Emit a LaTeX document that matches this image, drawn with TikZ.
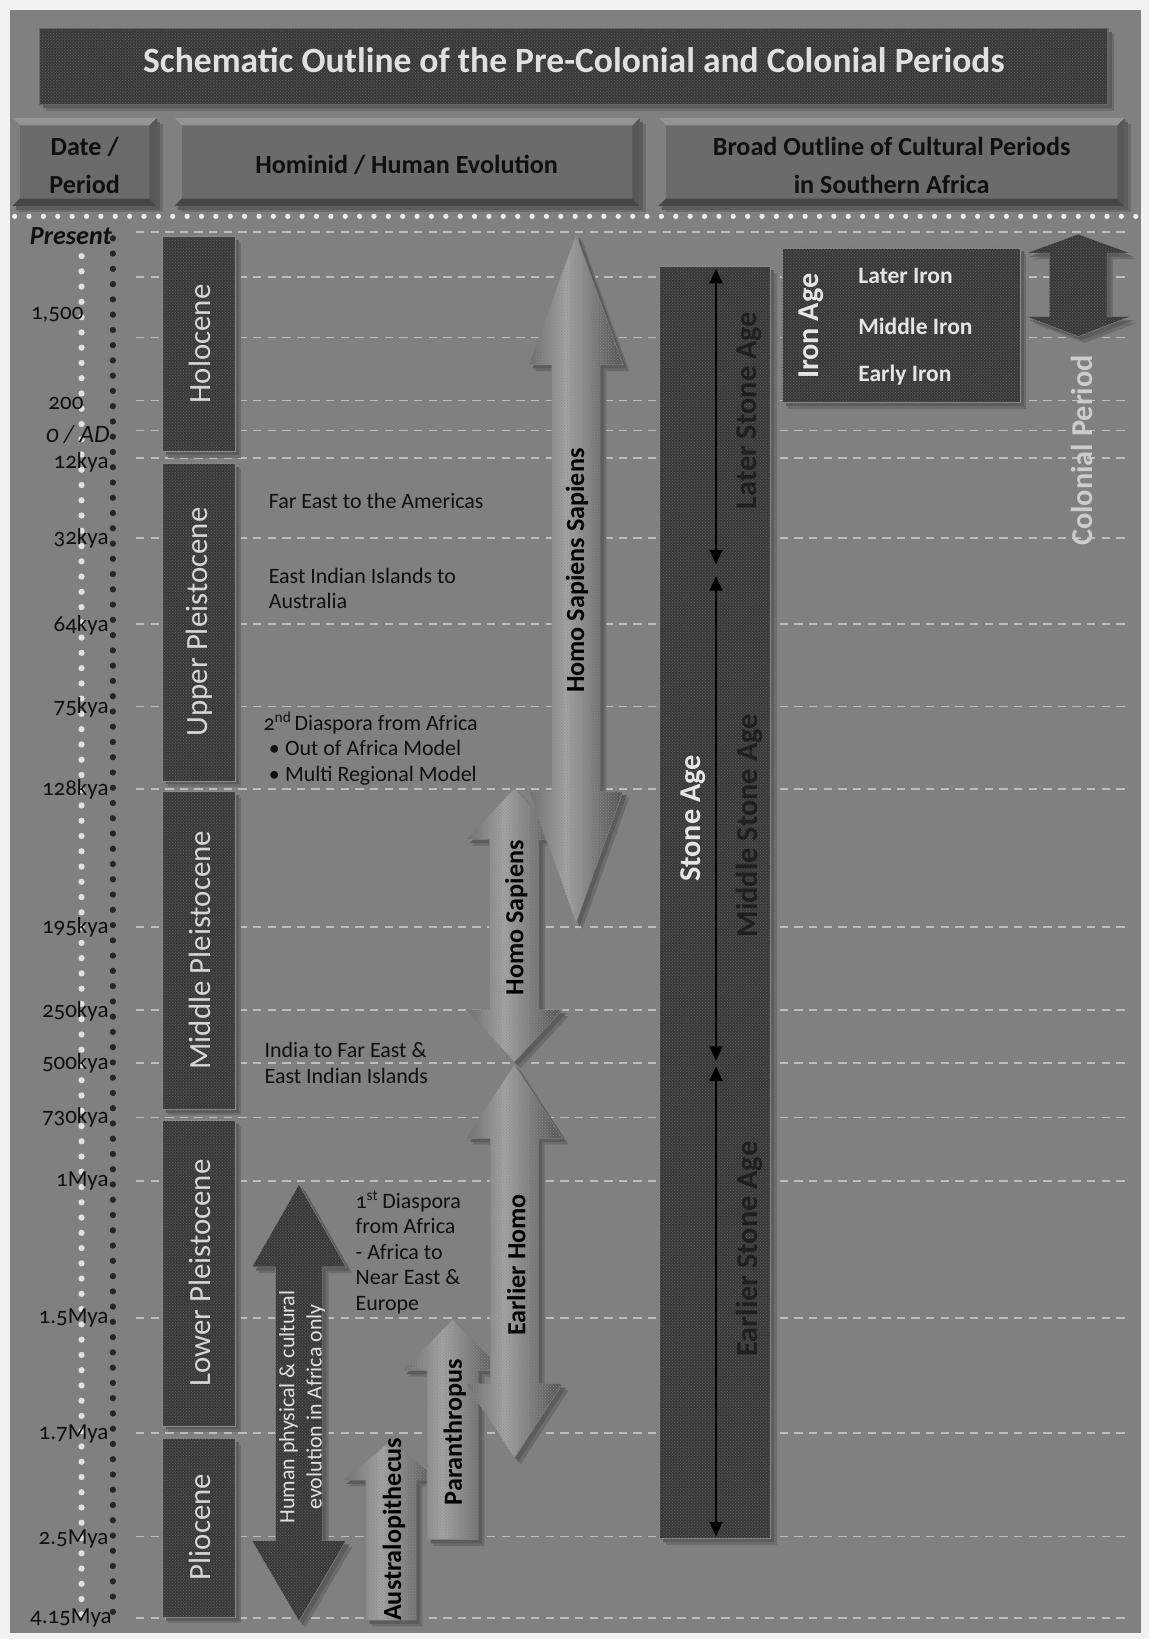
\documentclass[tikz,border=0pt]{standalone}
\usepackage{fontspec}
\setmainfont{Carlito}[Numbers=OldStyle]
\usetikzlibrary{patterns,arrows.meta}
\definecolor{bgc}{HTML}{F2F2F2}
\definecolor{panel}{HTML}{808080}
\definecolor{boxdark}{HTML}{393939}
\definecolor{patc}{HTML}{626262}
\definecolor{dashc}{HTML}{BDBDBD}
\definecolor{txtdark}{HTML}{101010}
\definecolor{txtlight}{HTML}{D6D6D6}
\definecolor{metL}{HTML}{5A5A5A}
\definecolor{metM}{HTML}{A4A4A4}
\definecolor{shadA}{HTML}{6C6C6C}
\definecolor{shadB}{HTML}{5C5C5C}
\newcommand{\dblpath}[7]{(#1,#4) -- (#1+#3,#5) -- (#1+#2,#5) -- (#1+#2,#6) -- (#1+#3,#6) -- (#1,#7) -- (#1-#3,#6) -- (#1-#2,#6) -- (#1-#2,#5) -- (#1-#3,#5) -- cycle}
\newcommand{\uppath}[6]{(#1,#4) -- (#1+#3,#5) -- (#1+#2,#5) -- (#1+#2,#6) -- (#1-#2,#6) -- (#1-#2,#5) -- (#1-#3,#5) -- cycle}
% soft shadow of a path: #1 path
\newcommand{\pshadow}[1]{%
  \fill[shadA, xshift=6pt, yshift=-6pt] #1;
  \fill[shadB, xshift=3.5pt, yshift=-3.5pt] #1;}
% metallic gradient inside a path: #1 path, #2 left x, #3 width
\newcommand{\metalfill}[3]{%
  \begin{scope}
  \clip #1;
  \foreach \i in {0,...,39}{%
    \pgfmathsetmacro\xa{#2+\i*#3/40}%
    \pgfmathsetmacro\xb{#2+(\i+1)*#3/40+0.6}%
    \pgfmathtruncatemacro\pp{max(0,min(100,100-185*abs(\i/39-0.40)))}%
    \fill[metM!\pp!metL] (\xa,0) rectangle (\xb,1568);}
  \fill[pattern=crosshatch dots, pattern color=black!45] (#2,0) rectangle (#2+#3,1568);
  \end{scope}
  \draw[black!50, line width=0.5pt] #1;}
\newcommand{\bvbox}[4]{%
  \pshadow{(#1,#2) rectangle (#3,#4)}
  \fill[black!58] (#1,#2) rectangle (#3,#4);
  \fill[black!42] (#1,#2) -- (#3,#2) -- (#3-7,#2+7) -- (#1+7,#2+7) -- cycle;
  \fill[black!50] (#1,#2) -- (#1+7,#2+7) -- (#1+7,#4-7) -- (#1,#4) -- cycle;
  \fill[black!72] (#1,#4) -- (#1+7,#4-7) -- (#3-7,#4-7) -- (#3,#4) -- cycle;
  \fill[black!66] (#3,#2) -- (#3-7,#2+7) -- (#3-7,#4-7) -- (#3,#4) -- cycle;}
\newcommand{\darkbox}[4]{%
  \pshadow{(#1,#2) rectangle (#3,#4)}
  \path[darkfill, draw=black!45] (#1,#2) rectangle (#3,#4);}
\tikzset{
  darkfill/.style={fill=boxdark, postaction={pattern=crosshatch dots, pattern color=patc}},
  dashline/.style={draw=dashc, line width=1.6pt, dash pattern=on 8pt off 6pt},
  datelbl/.style={anchor=east, text=txtdark, inner sep=0pt, font=\fontsize{22}{24}\selectfont},
  periodlbl/.style={rotate=90, text=txtlight, inner sep=0pt, font=\fontsize{29.5}{32}\selectfont},
  note/.style={anchor=west, align=left, text=txtdark, inner sep=0pt, font=\fontsize{21}{24.3}\selectfont},
  arrlbl/.style={rotate=90, text=black, inner sep=0pt, font=\bfseries\fontsize{25}{28}\selectfont},
  headlbl/.style={text=txtdark, align=center, inner sep=0pt, font=\bfseries\fontsize{25}{36}\selectfont},
  agelbl/.style={rotate=90, inner sep=0pt, font=\bfseries\fontsize{29}{32}\selectfont},
  ironlbl/.style={anchor=west, text=white!90!black, inner sep=0pt, font=\bfseries\fontsize{22.5}{26}\selectfont},
  stonearr/.style={{Triangle[length=14pt,width=12pt]}-{Triangle[length=14pt,width=12pt]}, line width=2.5pt, black}
}
\begin{document}
\begin{tikzpicture}[x=1pt,y=-1pt]
\useasboundingbox (0,0) rectangle (1099,1568);
\fill[bgc] (0,0) rectangle (1099,1568);
\fill[panel] (10,10) rectangle (1092,1562);
% dashed time lines
\foreach \yy in {222,265,323,383,412,438,515,597,676,755,887,966,1017,1069,1130,1261,1371,1470,1548}
  \draw[dashline] (130,\yy) -- (1080,\yy);
% title
\pshadow{(38,27) rectangle (1060,100)}
\path[darkfill, draw=black!60, line width=1pt] (38,27) rectangle (1060,100);
\node[text=white!88!black, font=\bfseries\fontsize{34}{38}\selectfont] (title) at (549,58) {Schematic Outline of the Pre-Colonial and Colonial Periods};
% headers
\bvbox{12}{113}{150}{197}
\bvbox{167}{113}{612}{197}
\bvbox{630}{113}{1076}{197}
\node[headlbl] (hdate) at (81,158) {Date /\\Period};
\node[headlbl] (hhom) at (389,158) {Hominid / Human Evolution};
\node[headlbl] (hcult) at (853,158) {Broad Outline of Cultural Periods\\in Southern Africa};
% separator dots
\draw[white!92!black, line width=5pt, line cap=round, dash pattern=on 0pt off 13.75pt] (14,207) -- (1092,207);
% dot columns
\draw[black!12, line width=6pt, line cap=round, dash pattern=on 0pt off 14.6pt] (78,245) -- (78,1555);
\draw[black!85, line width=6pt, line cap=round, dash pattern=on 0pt off 14.6pt] (108,228) -- (108,1555);
% date labels
\node[datelbl, font=\bfseries\itshape\fontsize{25}{27}\selectfont] (dpres) at (107,226) {Present};
\node[datelbl] (d1500) at (80,301) {1,500};
\node[datelbl] (d200) at (80,386) {200};
\node[datelbl, font=\itshape\fontsize{24}{26}\selectfont] (dad) at (105,416) {0 / AD};
\node[datelbl] (d12) at (104,442) {12kya};
\node[datelbl] (d32) at (104,515) {32kya};
\node[datelbl] (d64) at (104,598) {64kya};
\node[datelbl] (d75) at (104,677) {75kya};
\node[datelbl] (d128) at (104,755) {128kya};
\node[datelbl] (d195) at (104,887) {195kya};
\node[datelbl] (d250) at (104,968) {250kya};
\node[datelbl] (d500) at (104,1017) {500kya};
\node[datelbl] (d730) at (104,1069) {730kya};
\node[datelbl] (d1m) at (104,1130) {1Mya};
\node[datelbl] (d15m) at (104,1261) {1.5Mya};
\node[datelbl] (d17m) at (104,1372) {1.7Mya};
\node[datelbl] (d25m) at (104,1472) {2.5Mya};
\node[datelbl] (d415m) at (107,1548) {4.15Mya};
% period boxes
\darkbox{155}{226}{225}{432}
\darkbox{155}{443}{225}{747}
\darkbox{155}{757}{225}{1061}
\darkbox{155}{1072}{225}{1364}
\darkbox{155}{1376}{225}{1547}
\node[periodlbl] (pholo) at (191,329) {Holocene};
\node[periodlbl] (pupper) at (191,595) {Upper Pleistocene};
\node[periodlbl] (pmiddle) at (191,909) {Middle Pleistocene};
\node[periodlbl] (plower) at (191,1218) {Lower Pleistocene};
\node[periodlbl] (pplio) at (191,1461) {Pliocene};
% notes
\node[note] (n1) at (257,479) {Far East to the Americas};
\node[note] (n2) at (257,563) {East Indian Islands to\\Australia};
\node[note] (n3) at (252,716) {2\textsuperscript{nd}\hspace{3pt}Diaspora from Africa\\\hspace{5pt}\textbullet\hspace{5pt}Out of Africa Model\\\hspace{5pt}\textbullet\hspace{5pt}Multi Regional Model};
\node[note] (n4) at (253,1017) {India to Far East \&\\East Indian Islands};
\node[note] (n5) at (340,1198) {1\textsuperscript{st}\hspace{4pt}Diaspora\\from Africa\\- Africa to\\Near East \&\\Europe};
% human evolution arrow (dark)
\pshadow{\dblpath{286}{22.5}{45}{1133}{1212}{1474}{1551}}
\path[darkfill, draw=black!45] \dblpath{286}{22.5}{45}{1133}{1212}{1474}{1551};
\node[rotate=90, align=center, text=white!88!black, inner sep=0pt, font=\fontsize{21}{26}\selectfont] (nhuman) at (289,1346) {Human physical \& cultural\\evolution in Africa only};
% metallic arrows
\pshadow{\uppath{374}{24}{46}{1378}{1416}{1550}}
\metalfill{\uppath{374}{24}{46}{1378}{1416}{1550}}{328}{92}
\pshadow{\uppath{433}{24.5}{48}{1262}{1311}{1473}}
\metalfill{\uppath{433}{24.5}{48}{1262}{1311}{1473}}{385}{96}
\pshadow{\dblpath{492}{23}{46}{1018}{1089}{1324}{1395}}
\metalfill{\dblpath{492}{23}{46}{1018}{1089}{1324}{1395}}{446}{92}
\pshadow{\dblpath{492}{23.5}{46}{754}{803}{966}{1016}}
\metalfill{\dblpath{492}{23.5}{46}{754}{803}{966}{1016}}{446}{92}
\pshadow{\dblpath{551}{23}{45}{224}{349}{757}{883}}
\metalfill{\dblpath{551}{23}{45}{224}{349}{757}{883}}{506}{90}
\node[arrlbl] (aaus) at (377,1463) {Australopithecus};
\node[arrlbl] (apar) at (435,1370) {Paranthropus};
\node[arrlbl] (aeh) at (494,1210) {Earlier Homo};
\node[arrlbl] (ahs) at (494,878) {Homo Sapiens};
\node[arrlbl] (ahss) at (552,546) {Homo Sapiens Sapiens};
% stone age
\darkbox{631}{255}{737}{1472}
\coordinate (lsaT) at (685,257);
\coordinate (lsaB) at (685,540);
\coordinate (msaT) at (685,551);
\coordinate (msaB) at (685,1015);
\coordinate (esaT) at (685,1020);
\coordinate (esaB) at (685,1470);
\draw[stonearr] (lsaT) -- (lsaB);
\draw[stonearr] (msaT) -- (msaB);
\draw[stonearr] (esaT) -- (esaB);
\node[agelbl, text=white!90!black] (sa) at (663,783) {Stone Age};
\node[agelbl, text=black!88] (lsa) at (717,393) {Later Stone Age};
\node[agelbl, text=black!88] (msa) at (717,790) {Middle Stone Age};
\node[agelbl, text=black!88] (esa) at (717,1195) {Earlier Stone Age};
% iron age
\darkbox{748}{237}{976}{385}
\node[agelbl, text=white!90!black] (ia) at (776,312) {Iron Age};
\node[ironlbl] (ilater) at (821,264) {Later Iron};
\node[ironlbl] (imid) at (821,312) {Middle Iron};
\node[ironlbl] (iearly) at (821,359) {Early Iron};
% colonial
\pshadow{\dblpath{1031.5}{27.5}{49.5}{224}{242}{303}{322}}
\path[darkfill, draw=black!45] \dblpath{1031.5}{27.5}{49.5}{224}{242}{303}{322};
\node[agelbl, text=white!80!black] (col) at (1035,431) {Colonial Period};
\end{tikzpicture}
\end{document}
